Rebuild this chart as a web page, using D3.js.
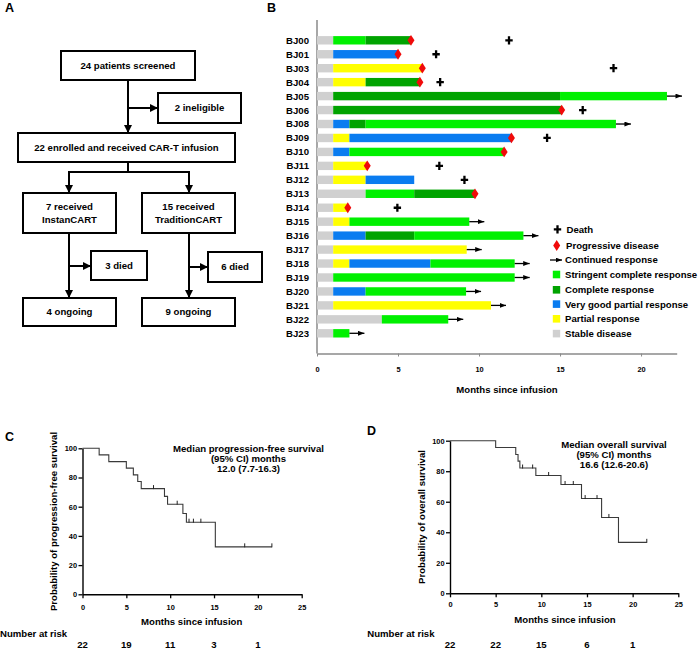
<!DOCTYPE html>
<html>
<head>
<meta charset="utf-8">
<script src="https://cdn.jsdelivr.net/npm/d3@7/dist/d3.min.js"></script>
<style>
  body { margin: 0; background: #fff; }
  text { font-family: "Liberation Sans", Arial, sans-serif; font-weight: bold; fill: #000; }
</style>
</head>
<body>
<svg id="canvas" width="698" height="650"></svg>
<script>
// ---------------------------------------------------------------- data
// panel A (flow chart)
var flowText = {
  screened: ['24 patients screened'],
  inelig: ['2 ineligible'],
  enrolled: ['22 enrolled and received CAR-T infusion'],
  instan: ['7 received', 'InstanCART'],
  tradit: ['15 received', 'TraditionCART'],
  diedL: ['3 died'], diedR: ['6 died'],
  ongoingL: ['4 ongoing'], ongoingR: ['9 ongoing']
};

// panel B (swimmer plot), months since infusion
var patients = ['BJ00','BJ01','BJ03','BJ04','BJ05','BJ06','BJ08','BJ09','BJ10','BJ11','BJ12',
                'BJ13','BJ14','BJ15','BJ16','BJ17','BJ18','BJ19','BJ20','BJ21','BJ22','BJ23'];
var phaseTypes = [
  ['SD','sCR','CR'], ['SD','VGPR'], ['SD','PR'], ['SD','PR','CR'], ['SD','CR','sCR'], ['SD','CR'],
  ['SD','VGPR','CR','sCR'], ['SD','PR','VGPR'], ['SD','VGPR','sCR'], ['SD','PR'], ['SD','PR','VGPR'],
  ['SD','sCR','CR'], ['SD','PR'], ['SD','PR','sCR'], ['SD','VGPR','CR','sCR'], ['SD','PR'],
  ['SD','PR','VGPR','sCR'], ['SD','sCR'], ['SD','VGPR','sCR'], ['SD','PR'], ['SD','sCR'], ['SD','sCR']
];
var phaseEnds = [
  [1,3,5.8], [1,5.0], [1,6.5], [1,3,6.35], [1,15,21.6], [1,15.1],
  [1,2,3,18.45], [1,2,12.0], [1,2,11.55], [1,3.1], [1,3,6.0],
  [3,6,9.75], [1,1.9], [1,2,9.4], [1,3,6,12.74], [1,9.24],
  [1,2,7.0,12.2], [1,12.2], [1,3,9.2], [1,10.74], [4,8.1], [1,2.0]
];
var progression = [5.8,5.0,6.5,6.35,null,15.1,null,12.0,11.55,3.1,null,9.75,1.9,null,null,null,null,null,null,null,null,null];
var death = [11.85,7.35,18.3,7.6,null,16.4,null,14.2,null,7.55,9.1,null,4.96,null,null,null,null,null,null,null,null,null];
var ongoing = [0,0,0,0,1,0,1,0,0,0,0,0,0,1,1,1,1,1,1,1,1,1];

var statusKeys = ['sCR','CR','VGPR','PR','SD'];
var statusNames = ['Stringent complete response','Complete response','Very good partial response','Partial response','Stable disease'];
var statusColors = ['#00f000','#00a300','#0a7cf0','#ffff00','#d0d0d0'];
var bTicks = [0,5,10,15,20];

// panel C (progression-free survival), months / percent
var pfsTime = [0,1.9,3.0,5.0,5.8,6.3,6.7,9.35,9.7,11.45,11.85,15.15,21.6];
var pfsSurv = [100,95.5,90.9,86.4,81.8,77.3,72.4,67.1,61.7,55.3,49.4,32.5,32.5];
var pfsCensor = [8.1,10.8,12.15,12.65,13.5,18.5,21.6];
var pfsRisk = [22,19,11,3,1];

// panel D (overall survival)
var osTime = [0,5.0,7.2,7.45,7.65,9.4,12.15,14.4,16.6,18.45,21.55];
var osSurv = [100,95.5,91.0,86.6,82.1,77.2,71.3,62.1,49.7,33.4,33.4];
var osCensor = [7.95,9.05,10.8,12.6,13.5,14.8,16.1,17.4,21.55];
var osRisk = [22,22,15,6,1];

var kmTicksX = [0,5,10,15,20,25];
var kmTicksY = [0,20,40,60,80,100];
var riskTimes = [0,5,10,15,20];

// ---------------------------------------------------------------- setup
var svg = d3.select('#canvas');
var FS = 9.6, TICK_FS = 7.4;

var defs = svg.append('defs');
defs.append('marker').attr('id', 'flowArrow')
  .attr('markerUnits', 'userSpaceOnUse').attr('markerWidth', 9).attr('markerHeight', 9)
  .attr('refX', 8).attr('refY', 4).attr('orient', 'auto')
  .append('path').attr('d', 'M0,0 L8,4 L0,8 Z').attr('fill', '#000');
defs.append('marker').attr('id', 'respArrow')
  .attr('markerUnits', 'userSpaceOnUse').attr('markerWidth', 7).attr('markerHeight', 6)
  .attr('refX', 6.5).attr('refY', 2.5).attr('orient', 'auto')
  .append('path').attr('d', 'M0,0 L6.5,2.5 L0,5 Z').attr('fill', '#000');

function panelLetter(t, x, y){
  svg.append('text').attr('x', x).attr('y', y).attr('font-size', 12.5).text(t);
}

// ---------------------------------------------------------------- A: flow chart
panelLetter('A', 5, 12);
var A = svg.append('g');

function box(x, y, w, h, lines){
  A.append('rect').attr('x', x).attr('y', y).attr('width', w).attr('height', h)
    .attr('fill', '#fff').attr('stroke', '#000').attr('stroke-width', 2);
  var lh = 12.4, y0 = y + h/2 - (lines.length - 1)*lh/2;
  lines.forEach(function(l, i){
    A.append('text').attr('x', x + w/2).attr('y', y0 + i*lh).attr('dy', '0.36em')
      .attr('text-anchor', 'middle').attr('font-size', FS).text(l);
  });
}
function link(pts, arrow){
  A.append('path').attr('d', d3.line()(pts)).attr('fill', 'none')
    .attr('stroke', '#000').attr('stroke-width', 2)
    .attr('marker-end', arrow ? 'url(#flowArrow)' : null);
}

box(61, 51, 134, 29, flowText.screened);
box(158, 93, 83, 30, flowText.inelig);
box(18, 133, 217, 29, flowText.enrolled);
box(23, 193, 93, 40, flowText.instan);
box(142, 193, 93, 40, flowText.tradit);
box(91, 251, 56, 29, flowText.diedL);
box(208, 252, 54, 30, flowText.diedR);
box(23, 298, 93, 28, flowText.ongoingL);
box(142, 298, 93, 28, flowText.ongoingR);

link([[128, 80], [128, 133]], true);
link([[128, 108], [158, 108]], true);
link([[128, 162], [128, 172]], false);
link([[69, 172], [189, 172]], false);
link([[69, 171], [69, 193]], true);
link([[189, 171], [189, 193]], true);
link([[69, 233], [69, 298]], true);
link([[69, 266], [91, 266]], true);
link([[189, 233], [189, 298]], true);
link([[189, 267], [208, 267]], true);

// ---------------------------------------------------------------- B: swimmer plot
panelLetter('B', 267, 12);
var B = svg.append('g');
var xB = d3.scaleLinear().domain([0, 22.2]).range([317, 676.7]);
var yB = d3.scalePoint().domain(patients).range([40.3, 333.3]);
var colorB = d3.scaleOrdinal().domain(statusKeys).range(statusColors);
var barH = 8.4;

B.append('line').attr('x1', 317).attr('x2', 317).attr('y1', 20).attr('y2', 353.5)
  .attr('stroke', '#8a8a8a').attr('stroke-width', 1.5);

var axB = B.append('g').attr('transform', 'translate(0,353.5)')
  .call(d3.axisBottom(xB).tickValues(bTicks).tickSize(3).tickPadding(10).tickSizeOuter(0));
axB.select('.domain').attr('stroke', '#8a8a8a').attr('stroke-width', 1.5);
axB.selectAll('.tick line').attr('stroke', '#8a8a8a');
axB.selectAll('.tick text').attr('font-size', TICK_FS).attr('font-family', null);
B.append('text').attr('x', 507).attr('y', 389.5).attr('dy', '0.36em').attr('text-anchor', 'middle')
  .attr('font-size', FS).text('Months since infusion');

var segs = [];
patients.forEach(function(p, i){
  var start = 0;
  phaseEnds[i].forEach(function(e, j){
    segs.push({ p: p, s: phaseTypes[i][j], a: start, b: e });
    start = e;
  });
});
B.selectAll('rect.seg').data(segs).enter().append('rect').attr('class', 'seg')
  .attr('x', function(d){ return xB(d.a); })
  .attr('width', function(d){ return xB(d.b) - xB(d.a); })
  .attr('y', function(d){ return yB(d.p) - barH/2; })
  .attr('height', barH)
  .attr('fill', function(d){ return colorB(d.s); });

B.selectAll('text.pid').data(patients).enter().append('text').attr('class', 'pid')
  .attr('x', 309).attr('y', function(d){ return yB(d); }).attr('dy', '0.36em')
  .attr('text-anchor', 'end').attr('font-size', FS).text(function(d){ return d; });

function diamond(g, x, y){
  g.append('path').attr('d', 'M' + x + ',' + (y - 5.4) + 'L' + (x + 3.5) + ',' + y + 'L' + x + ',' + (y + 5.4) + 'L' + (x - 3.5) + ',' + y + 'Z')
    .attr('fill', '#f00a0a');
}
function cross(g, x, y){
  g.append('path').attr('d', 'M' + (x - 3.7) + ',' + y + 'H' + (x + 3.7) + 'M' + x + ',' + (y - 4.1) + 'V' + (y + 4.1))
    .attr('stroke', '#000').attr('stroke-width', 2.3).attr('fill', 'none');
}
function respArrow(g, x1, x2, y){
  g.append('line').attr('x1', x1).attr('x2', x2).attr('y1', y).attr('y2', y)
    .attr('stroke', '#000').attr('stroke-width', 1.3).attr('marker-end', 'url(#respArrow)');
}

patients.forEach(function(p, i){
  var y = yB(p), ends = phaseEnds[i], last = ends[ends.length - 1];
  if (progression[i] != null) diamond(B, xB(progression[i]), y);
  if (death[i] != null) cross(B, xB(death[i]), y);
  if (ongoing[i]) respArrow(B, xB(last), xB(last) + 15, y);
});

// legend
var L = svg.append('g');
var legY = [229.3, 245.5, 260, 274.7, 290, 304.3, 319, 333.8];
cross(L, 557.5, legY[0]);
L.append('text').attr('x', 566.5).attr('y', legY[0]).attr('dy', '0.36em').attr('font-size', FS).text('Death');
diamond(L, 556.7, legY[1]);
L.append('text').attr('x', 566).attr('y', legY[1]).attr('dy', '0.36em').attr('font-size', FS).text('Progressive disease');
respArrow(L, 550, 562, legY[2]);
L.append('text').attr('x', 565).attr('y', legY[2]).attr('dy', '0.36em').attr('font-size', FS).text('Continued response');
statusKeys.forEach(function(k, i){
  var y = legY[3 + i];
  L.append('rect').attr('x', 552.8).attr('y', y - 4).attr('width', 7.4).attr('height', 7.6).attr('fill', statusColors[i]);
  L.append('text').attr('x', 565).attr('y', y).attr('dy', '0.36em').attr('font-size', FS).text(statusNames[i]);
});

// ---------------------------------------------------------------- C & D: Kaplan-Meier
function kmPanel(o){
  var g = svg.append('g');
  var x = d3.scaleLinear().domain([0, 25]).range([o.x0, o.x1]);
  var y = d3.scaleLinear().domain([0, 100]).range([o.y0, o.y1]);

  var ax = g.append('g').attr('transform', 'translate(0,' + o.y0 + ')')
    .call(d3.axisBottom(x).tickValues(kmTicksX).tickSize(4).tickPadding(o.xPad).tickSizeOuter(0));
  var ay = g.append('g').attr('transform', 'translate(' + o.x0 + ',0)')
    .call(d3.axisLeft(y).tickValues(kmTicksY).tickSize(4).tickPadding(1.5).tickSizeOuter(0));
  [ax, ay].forEach(function(a){
    a.select('.domain').attr('stroke', '#000').attr('stroke-width', 1.4);
    a.selectAll('.tick line').attr('stroke', '#000').attr('stroke-width', 1.3);
    a.selectAll('.tick text').attr('font-size', TICK_FS).attr('font-family', null);
  });

  var pts = o.time.map(function(t, i){ return [x(t), y(o.surv[i])]; });
  g.append('path').attr('d', d3.line().curve(d3.curveStepAfter)(pts))
    .attr('fill', 'none').attr('stroke', '#3a3a3a').attr('stroke-width', 1.1);

  // censor marks sit on the curve level at that time
  var level = function(t){
    var i = d3.bisectRight(o.time, t) - 1;
    return o.surv[Math.max(0, i)];
  };
  g.selectAll('line.cens').data(o.censor).enter().append('line').attr('class', 'cens')
    .attr('x1', function(d){ return x(d); }).attr('x2', function(d){ return x(d); })
    .attr('y1', function(d){ return y(level(d)) - 3.5; }).attr('y2', function(d){ return y(level(d)) + 0.5; })
    .attr('stroke', '#222').attr('stroke-width', 1);

  g.append('text').attr('transform', 'translate(' + o.yLabX + ',' + o.yLabY + ') rotate(-90)')
    .attr('text-anchor', 'middle').attr('dy', '0.36em').attr('font-size', FS).text(o.yLabel);
  g.append('text').attr('x', o.xLabX).attr('y', o.xLabY).attr('dy', '0.36em')
    .attr('text-anchor', 'middle').attr('font-size', FS).text('Months since infusion');

  o.note.forEach(function(t, i){
    g.append('text').attr('x', o.noteX).attr('y', o.noteY + i*10).attr('dy', '0.36em')
      .attr('text-anchor', 'middle').attr('font-size', FS).text(t);
  });

  g.append('text').attr('x', o.riskLabX).attr('y', o.riskLabY).attr('dy', '0.36em')
    .attr('font-size', FS).text('Number at risk');
  g.selectAll('text.risk').data(o.risk).enter().append('text').attr('class', 'risk')
    .attr('x', function(d, i){ return x(riskTimes[i]); }).attr('y', o.riskY).attr('dy', '0.36em')
    .attr('text-anchor', 'middle').attr('font-size', FS).text(function(d){ return d; });
}

panelLetter('C', 5, 441);
kmPanel({
  x0: 82.5, x1: 301.7, y0: 594.3, y1: 448.3, xPad: 6,
  time: pfsTime, surv: pfsSurv, censor: pfsCensor, risk: pfsRisk,
  yLabel: 'Probability of progression-free survival', yLabX: 53.3, yLabY: 521.5,
  xLabX: 191.7, xLabY: 621.7,
  note: ['Median progression-free survival', '(95% CI) months', '12.0 (7.7-16.3)'], noteX: 248.5, noteY: 448.3,
  riskLabX: 0, riskLabY: 633.5, riskY: 644.3
});

panelLetter('D', 367, 435);
kmPanel({
  x0: 450, x1: 678.3, y0: 593.3, y1: 440.7, xPad: 4.5,
  time: osTime, surv: osSurv, censor: osCensor, risk: osRisk,
  yLabel: 'Probability of overall survival', yLabX: 421.7, yLabY: 517,
  xLabX: 565, xLabY: 620,
  note: ['Median overall survival', '(95% CI) months', '16.6 (12.6-20.6)'], noteX: 614, noteY: 444.3,
  riskLabX: 367.3, riskLabY: 633.5, riskY: 644.3
});
</script>
</body>
</html>
